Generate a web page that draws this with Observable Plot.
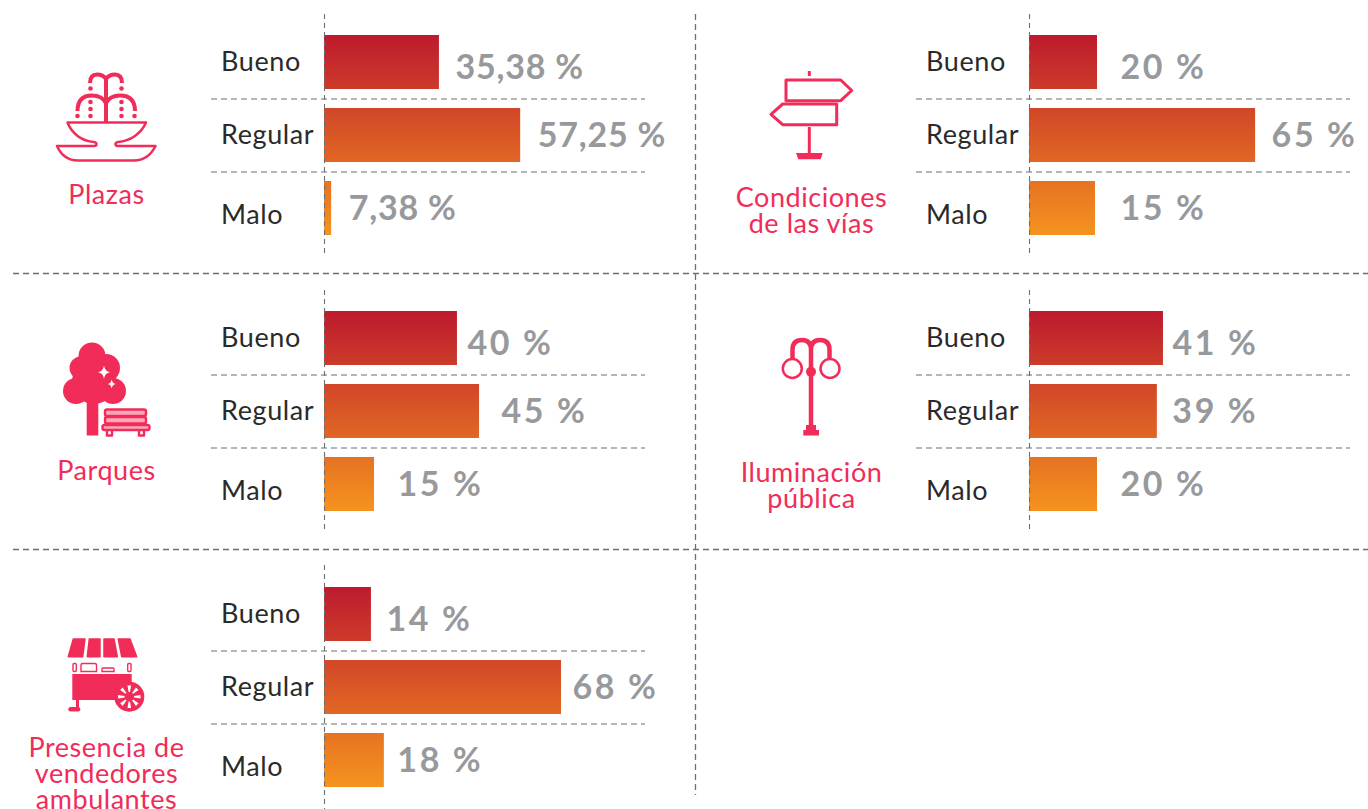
<!DOCTYPE html>
<html lang="es">
<head>
<meta charset="utf-8">
<script src="https://cdn.jsdelivr.net/npm/d3@7"></script>
<script src="https://cdn.jsdelivr.net/npm/@observablehq/plot@0.6"></script>
<style>
  html, body { margin: 0; padding: 0; background: #fff; overflow: hidden; }
  #chart { position: relative; width: 1368px; height: 809px; }
  #chart svg { position: absolute; background: transparent; overflow: visible; }
  g[aria-description="valor"] text { letter-spacing: 0.8px; }
  g[aria-description="valor-corto"] text { letter-spacing: 2.6px; }
  g[aria-description="categoria"] text { letter-spacing: 0.6px; }
  g[aria-description="titulo"] text { letter-spacing: 0.55px; }
</style>
</head>
<body>
<div id="chart"></div>
<script>
// ---- Data ----
const categories = ["Bueno", "Regular", "Malo"];

// bar lengths as drawn in the picture (on the common percent axis)
const plazasBars = [33.8, 57.7, 2.1];
const viasBars = [20, 66.5, 19.4];
const parquesBars = [39.1, 45.6, 14.7];
const iluminacionBars = [39.4, 37.6, 20];
const vendedoresBars = [13.8, 69.7, 17.6];

// printed values
const plazasLabels = ["35,38 %", "57,25 %", "7,38 %"];
const viasLabels = ["20 %", "65 %", "15 %"];
const parquesLabels = ["40 %", "45 %", "15 %"];
const iluminacionLabels = ["41 %", "39 %", "20 %"];
const vendedoresLabels = ["14 %", "68 %", "18 %"];

const plazasTitle = "Plazas";
const viasTitle = "Condiciones\nde las vías";
const parquesTitle = "Parques";
const iluminacionTitle = "Iluminación\npública";
const vendedoresTitle = "Presencia de\nvendedores\nambulantes";

// ---- Styling and layout ----
const PINK = "#f12c58";
const INK = "#2b2a2b";
const GREY = "#98999c";
const DASH = "#6d6e71";
const FONT = "Lato, 'Noto Sans', sans-serif";

const icons = {
  plazas: `
    <g fill="none" stroke="${PINK}" stroke-width="4">
      <path d="M106 78V122"/>
      <path d="M90 83Q90 74.500 97 74.500Q103 74.500 106 79Q109 74.500 115 74.500Q122 74.500 122 83"/>
      <path d="M77.500 111Q77.500 95.500 92 95.500Q102 95.500 106 103Q110 95.500 120 95.500Q135 95.500 135 111"/>
    </g>
    <g fill="${PINK}">
      <circle cx="90.500" cy="88.500" r="2.300"/><circle cx="121.500" cy="88.500" r="2.300"/>
      <circle cx="90.500" cy="102" r="2.300"/><circle cx="121.500" cy="102" r="2.300"/>
      <circle cx="90.500" cy="109" r="2.300"/><circle cx="121.500" cy="109" r="2.300"/>
      <circle cx="90.500" cy="116" r="2.300"/><circle cx="121.500" cy="116" r="2.300"/>
      <circle cx="77.500" cy="116" r="2.300"/><circle cx="134.500" cy="116" r="2.300"/>
    </g>
    <path fill="none" stroke="${PINK}" stroke-width="2.500" stroke-linejoin="round"
      d="M67.500 122.500H146C141 134 130 141 118 142Q115.500 142.500 115.500 144Q115.500 146 118 146H155.500C151 155 145 160.500 134 160.500H78C67 160.500 61 155 57 146H94Q96.500 146 96.500 144Q96.500 142.500 94 142C82 141 72 134 67.500 122.500Z"/>`,
  vias: `
    <g fill="none" stroke="${PINK}" stroke-width="3" stroke-linejoin="round">
      <path d="M81 80H135.700L146.700 90.500L135.700 100.700H81Z"/>
      <path d="M66 114.300L77.700 104H131.700V124.700H77.700Z"/>
      <path d="M104.300 127V154"/>
      <path d="M104.300 71V76"/>
    </g>
    <path fill="${PINK}" d="M91 153H117.700L115.700 159.300H93.300Z"/>`,
  parques: `
    <g fill="${PINK}">
      <circle cx="92" cy="80" r="13.500"/><circle cx="81" cy="92" r="11.500"/><circle cx="106" cy="92" r="14"/>
      <circle cx="76" cy="115" r="13"/><circle cx="113" cy="115" r="13"/><circle cx="94" cy="106" r="22"/>
      <rect x="86.700" y="120" width="11.600" height="39.500"/>
      <path d="M104 89.500Q104.800 95.500 110 96.300Q104.800 97.100 104 103Q103.200 97.100 98 96.300Q103.200 95.500 104 89.500Z" fill="#fff"/>
      <path d="M111.700 103.500Q112.300 107.300 115.700 108Q112.300 108.700 111.700 112.500Q111.100 108.700 107.700 108Q111.100 107.300 111.700 103.500Z" fill="#fff"/>
    </g>
    <g fill="#f9a9bb" stroke="${PINK}" stroke-width="2.400" stroke-linejoin="round">
      <rect x="105" y="133.500" width="41" height="6.500" rx="2"/>
      <rect x="105" y="141" width="41" height="6.500" rx="2"/>
      <rect x="102.500" y="149" width="47" height="5" rx="2"/>
      <path fill="none" d="M107 154V159.500H112V154M139 154V159.500H144V154"/>
    </g>`,
  iluminacion: `
    <g fill="none" stroke="${PINK}" stroke-width="4.500">
      <path d="M106 74V150"/>
      <path d="M87.500 83V74Q87.500 64 97 64Q106 64 106 74Q106 64 115 64Q124.500 64 124.500 74V83"/>
    </g>
    <g fill="none" stroke="${PINK}" stroke-width="2.500">
      <circle cx="87.300" cy="92.500" r="9.500"/><circle cx="125" cy="92.500" r="9.500"/>
    </g>
    <g fill="${PINK}">
      <circle cx="106" cy="95.700" r="5"/>
      <rect x="101" y="149" width="10" height="6"/>
      <rect x="98.300" y="154" width="15.700" height="5.500"/>
    </g>`,
  vendedores: `
    <g fill="${PINK}" stroke="${PINK}" stroke-linejoin="round">
      <path stroke-width="1.500" d="M73.300 88H85L82.700 105.700H68.300Z"/>
      <path stroke-width="1.500" d="M89.300 88H100V105.700H87.300Z"/>
      <path stroke-width="1.500" d="M104 88H114L117.300 105.700H104Z"/>
      <path stroke-width="1.500" d="M118.300 88H130L136.700 105.700H121.700Z"/>
    </g>
    <g fill="none" stroke="${PINK}" stroke-width="1.400">
      <rect x="73" y="112.500" width="3.300" height="8" rx="1"/>
      <rect x="127.700" y="112.500" width="3.300" height="8" rx="1"/>
      <path d="M81 120.500V114Q81 112.500 82.500 112.500H95Q96.500 112.500 96.500 114V120.500Z"/>
      <path d="M102 120.500V118Q102 117 103 117H113Q114 117 114 118V120.500Z"/>
    </g>
    <g fill="${PINK}">
      <rect x="72.300" y="123" width="59.400" height="26"/>
      <rect x="76" y="149" width="3" height="9"/>
      <rect x="68.300" y="156" width="12" height="4.500" rx="2.200"/>
      <circle cx="129.300" cy="145.700" r="15"/>
    </g>
    <g fill="#fff">
      ${[0, 45, 90, 135, 180, 225, 270, 315].map(a => `<path transform="rotate(${a} 129.300 145.700)" d="M127.500 134.500H131.100L130 141H128.600Z"/>`).join("")}
    </g>`
};

const panels = [
  {id: "plazas", col: 0, row: 0, bars: plazasBars, labels: plazasLabels, title: plazasTitle, titleTop: 215, gaps: [16, 17, 17]},
  {id: "vias", col: 1, row: 0, bars: viasBars, labels: viasLabels, title: viasTitle, titleTop: 218, gaps: [23, 16, 25]},
  {id: "parques", col: 0, row: 1, bars: parquesBars, labels: parquesLabels, title: parquesTitle, titleTop: 215, gaps: [10, 22, 23]},
  {id: "iluminacion", col: 1, row: 1, bars: iluminacionBars, labels: iluminacionLabels, title: iluminacionTitle, titleTop: 217, gaps: [9, 15, 23]},
  {id: "vendedores", col: 0, row: 2, bars: vendedoresBars, labels: vendedoresLabels, title: vendedoresTitle, titleTop: 217, gaps: [15, 11, 13]}
];

const colLeft = [0, 705];
const rowTop = [0, 276, 551];
const rowHeight = [273, 273, 258];
const rowBottomMargin = [16, 16, 0];
const catDy = [0, 0, 6.5];
const valueDy = [6, 1, 1];

const chart = document.getElementById("chart");

// separators between the panels
const frameSvg = Plot.plot({
  width: 1368, height: 809, margin: 0,
  x: {axis: null, domain: [0, 1368], range: [0, 1368]},
  y: {axis: null, domain: [0, 809], range: [0, 809]},
  marks: [
    Plot.ruleY([273, 549], {x1: 13, x2: 1368, stroke: DASH, strokeWidth: 1.3, strokeDasharray: "6 4"}),
    Plot.ruleX([695], {y1: 14, y2: 795, stroke: DASH, strokeWidth: 1.3, strokeDasharray: "6 4"})
  ]
});
frameSvg.style.left = "0px";
frameSvg.style.top = "0px";
chart.append(frameSvg);

for (const p of panels) {
  const rows = categories.map((c, i) => ({category: c, value: p.bars[i], label: p.labels[i]}));
  const gradId = `grad-${p.id}`;
  const defs = () => {
    const g = d3.create("svg:g");
    g.html(`<defs><linearGradient id="${gradId}" gradientUnits="userSpaceOnUse" x1="0" x2="0" y1="35" y2="235">
      <stop offset="0" stop-color="#bd1a2e"/><stop offset="1" stop-color="#f5931e"/></linearGradient></defs>`);
    return g.node();
  };
  const icon = () => {
    const g = d3.create("svg:g");
    g.html(icons[p.id]);
    return g.node();
  };
  const svg = Plot.plot({
    width: 645 + 50,
    height: rowHeight[p.row],
    marginLeft: 211,
    marginRight: 50,
    marginTop: 14,
    marginBottom: rowBottomMargin[p.row],
    style: {fontFamily: FONT, background: "transparent", overflow: "visible"},
    x: {axis: null, domain: [-33.24, 94.41]},
    y: {axis: null, domain: categories, paddingInner: 0.26, paddingOuter: 0.29},
    marks: [
      defs,
      icon,
      Plot.barX(rows, {x1: 0, x2: "value", y: "category", fill: `url(#${gradId})`}),
      Plot.ruleY(categories.slice(1), {y: d => d, dy: -36.5, stroke: DASH, strokeWidth: 1.1, strokeDasharray: "6 4"}),
      Plot.ruleX([0], {stroke: DASH, strokeWidth: 1.1, strokeDasharray: "5 4"}),
      ...rows.map((r, i) => Plot.text([r], {
        y: "category", text: "category", frameAnchor: "left", textAnchor: "start",
        dx: 9.5, dy: catDy[i], fill: INK, fontSize: 27, ariaDescription: "categoria"
      })),
      ...rows.map((r, i) => Plot.text([r], {
        x: "value", y: "category", text: "label", textAnchor: "start",
        dx: p.gaps[i], dy: valueDy[i], fill: GREY, fontSize: 34, fontWeight: 700,
        ariaDescription: r.label.length <= 4 ? "valor-corto" : "valor"
      })),
      Plot.text([p.title], {
        frameAnchor: "top-left", text: d => d, textAnchor: "middle", lineAnchor: "top",
        dx: -105, dy: p.titleTop - 14 - 30, lineHeight: 26 / 27, fill: PINK, fontSize: 27, ariaDescription: "titulo"
      })
    ]
  });
  svg.style.left = `${colLeft[p.col]}px`;
  svg.style.top = `${rowTop[p.row]}px`;
  chart.append(svg);
}
</script>
</body>
</html>
